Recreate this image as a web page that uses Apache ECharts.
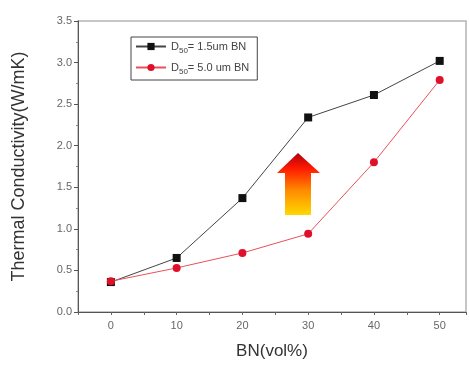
<!DOCTYPE html>
<html>
<head>
<meta charset="utf-8">
<script src="https://cdn.jsdelivr.net/npm/echarts@6/dist/echarts.min.js"></script>
<style>
  html, body { margin: 0; padding: 0; background: #fff; }
  #chart { width: 469px; height: 368px; }
</style>
</head>
<body>
<div id="chart"></div>
<script>
// data
var bnContent = [0, 10, 20, 30, 40, 50];
var d15 = [0.36, 0.65, 1.37, 2.34, 2.61, 3.02];
var d50 = [0.37, 0.53, 0.71, 0.94, 1.80, 2.79];
var xTicks = [0, 10, 20, 30, 40, 50];

var chart = echarts.init(document.getElementById("chart"));

function pairs(xs, ys) {
  return xs.map(function (x, i) { return [x, ys[i]]; });
}

var option = {
  animation: false,
  grid: {
    left: 78, right: 3, top: 21, bottom: 56,
    show: true,
    borderColor: "#b4b4b4",
    borderWidth: 1.5,
    backgroundColor: "transparent"
  },
  xAxis: {
    type: "value",
    min: -5,
    max: 54,
    interval: 5,
    name: "BN(vol%)",
    nameLocation: "middle",
    nameGap: 31,
    nameTextStyle: { fontSize: 17, color: "#333", fontFamily: "Liberation Sans" },
    axisLine: { show: true, onZero: false, lineStyle: { color: "#555", width: 1 } },
    axisTick: { show: true, length: 3, lineStyle: { color: "#666" } },
    axisLabel: {
      fontSize: 11, color: "#666", fontFamily: "Liberation Sans", margin: 8,
      customValues: xTicks
    },
    splitLine: { show: false }
  },
  yAxis: {
    type: "value",
    min: 0,
    max: 3.5,
    interval: 0.5,
    name: "Thermal Conductivity(W/mK)",
    nameLocation: "middle",
    nameGap: 50,
    nameTextStyle: { fontSize: 18, color: "#333", fontFamily: "Liberation Sans" },
    axisLine: { show: true, onZero: false, lineStyle: { color: "#555", width: 1 } },
    axisTick: { show: true, length: 4, lineStyle: { color: "#555" } },
    minorTick: { show: true, splitNumber: 2, length: 2, lineStyle: { color: "#888" } },
    axisLabel: {
      fontSize: 11, color: "#666", fontFamily: "Liberation Sans", margin: 6,
      formatter: function (v) { return v.toFixed(1); }
    },
    splitLine: { show: false }
  },
  legend: {
    left: 131,
    top: 37,
    orient: "vertical",
    itemGap: 7,
    itemWidth: 30,
    itemHeight: 9,
    padding: [4, 8, 4, 4],
    borderColor: "#444",
    borderWidth: 1,
    textStyle: {
      fontSize: 11,
      color: "#444",
      fontFamily: "Liberation Sans",
      rich: {
        sub: { fontSize: 8, color: "#444", verticalAlign: "bottom", padding: [9, 0, 0, 0] }
      }
    },
    formatter: function (name) {
      if (name === "a") return "D{sub|50}= 1.5um BN";
      return "D{sub|50}= 5.0 um BN";
    },
    data: ["a", "b"]
  },
  series: [
    {
      name: "a",
      type: "line",
      data: pairs(bnContent, d15),
      symbol: "rect",
      symbolSize: 8,
      itemStyle: { color: "#111" },
      lineStyle: { color: "#444", width: 1 },
      z: 2
    },
    {
      name: "b",
      type: "line",
      data: pairs(bnContent, d50),
      symbol: "circle",
      symbolSize: 8,
      itemStyle: { color: "#e0102a" },
      lineStyle: { color: "#e8505a", width: 1 },
      z: 3
    }
  ],
  graphic: [
    {
      type: "polygon",
      shape: {
        points: [[298, 153], [320, 173], [311, 173], [311, 215], [285, 215], [285, 173], [277, 173]]
      },
      style: {
        fill: new echarts.graphic.LinearGradient(0, 0, 0, 1, [
          { offset: 0, color: "#b00010" },
          { offset: 0.25, color: "#ff1a00" },
          { offset: 0.6, color: "#ff8a00" },
          { offset: 1, color: "#ffd800" }
        ])
      }
    }
  ]
};

chart.setOption(option);
</script>
</body>
</html>
